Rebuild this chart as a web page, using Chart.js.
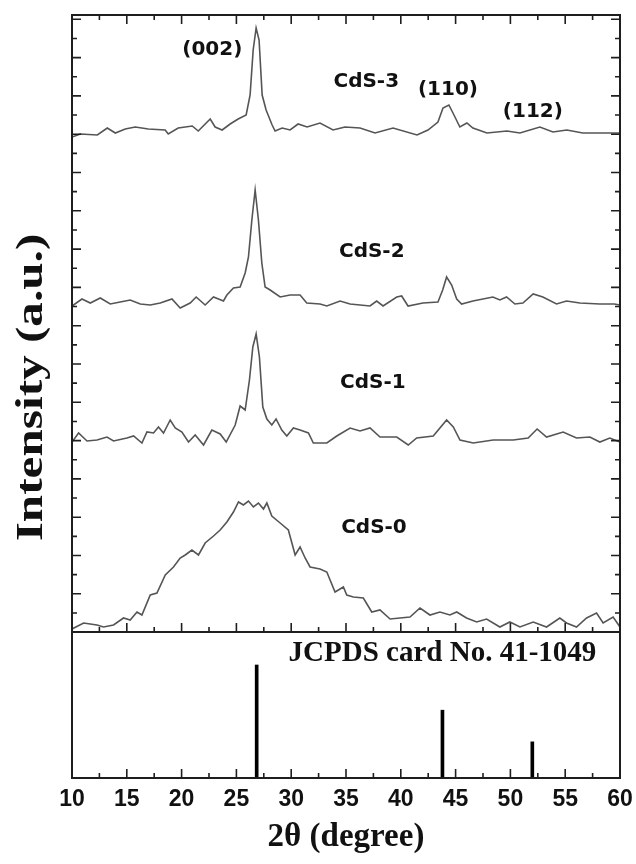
<!DOCTYPE html>
<html>
<head>
<meta charset="utf-8">
<script src="https://cdn.jsdelivr.net/npm/chart.js@4.4.1/dist/chart.umd.min.js"></script>
<style>
  html, body { margin: 0; padding: 0; background: #fff; }
  #wrap { position: relative; width: 636px; height: 864px; }
</style>
</head>
<body>
<div id="wrap"><canvas id="xrd"></canvas></div>
<script>
  'use strict';

  // ===========================================================================
  // DATA (2θ in degrees, intensity in a.u., patterns already stacked)
  // ===========================================================================

  const angle3 = [10.0, 10.76, 12.31, 13.22, 13.95, 14.86, 15.77, 16.96, 18.5, 18.78, 19.69, 20.97, 21.52, 22.61, 23.06, 23.7, 24.43, 25.16, 25.89, 26.25, 26.53, 26.8, 27.07, 27.35, 27.71, 28.26, 28.53, 29.17, 29.9, 30.63, 31.45, 32.63, 33.82, 34.91, 36.28, 37.65, 39.29, 41.48, 42.48, 43.39, 43.85, 44.39, 44.76, 45.39, 46.03, 46.58, 47.86, 49.68, 50.87, 52.69, 53.88, 55.15, 56.61, 59.07, 60.0];
  const counts3 = [495, 498, 497, 504, 499, 503, 505, 503, 502, 498, 504, 506, 501, 513, 505, 502, 508, 513, 517, 537, 582, 604, 592, 537, 522, 507, 501, 504, 502, 508, 505, 509, 502, 505, 504, 499, 504, 497, 502, 510, 524, 527, 519, 505, 509, 504, 499, 501, 499, 505, 500, 502, 499, 499, 499];

  const angle2 = [10.0, 10.91, 11.67, 12.58, 13.49, 14.4, 15.31, 16.23, 17.14, 18.05, 19.12, 19.87, 20.78, 21.33, 22.15, 22.91, 23.82, 24.13, 24.73, 25.34, 25.8, 26.1, 26.41, 26.71, 27.01, 27.32, 27.62, 28.08, 28.99, 29.9, 30.81, 31.42, 32.63, 33.25, 34.46, 35.37, 36.28, 37.19, 37.8, 38.38, 39.63, 40.08, 40.66, 42.02, 43.39, 43.82, 44.18, 44.64, 45.1, 45.55, 46.58, 48.4, 49.04, 49.65, 50.41, 51.14, 52.08, 52.96, 54.21, 55.12, 56.34, 58.16, 59.49, 60.0];
  const counts2 = [326, 333, 329, 334, 328, 330, 332, 328, 327, 329, 333, 324, 329, 335, 327, 335, 331, 337, 344, 345, 359, 375, 412, 442, 412, 369, 345, 342, 335, 337, 337, 329, 328, 326, 331, 328, 327, 326, 331, 326, 335, 336, 326, 329, 330, 342, 355, 347, 333, 328, 331, 335, 332, 335, 328, 329, 338, 335, 328, 331, 329, 328, 328, 327];

  const angle1 = [10.0, 10.6, 11.37, 12.28, 13.19, 13.79, 15.01, 15.62, 16.38, 16.84, 17.44, 17.89, 18.35, 18.96, 19.42, 20.03, 20.63, 21.24, 22.0, 22.76, 23.52, 24.07, 24.89, 25.34, 25.8, 26.19, 26.5, 26.8, 27.1, 27.41, 27.78, 28.23, 28.62, 29.14, 29.6, 30.2, 30.81, 31.57, 32.02, 33.25, 34.16, 35.37, 36.28, 37.19, 38.1, 39.63, 40.68, 41.45, 42.96, 44.18, 44.79, 45.4, 46.61, 48.43, 50.26, 51.62, 52.44, 53.3, 54.81, 56.03, 57.25, 58.16, 59.07, 60.0];
  const counts1 = [190, 199, 191, 192, 195, 191, 194, 196, 189, 200, 199, 205, 199, 212, 204, 200, 190, 197, 187, 202, 198, 190, 207, 226, 222, 252, 285, 298, 275, 225, 213, 207, 213, 202, 196, 204, 202, 199, 189, 189, 196, 204, 201, 204, 195, 195, 187, 194, 196, 212, 205, 192, 189, 192, 192, 194, 203, 195, 200, 194, 195, 190, 194, 190];

  const angle0 = [10.0, 11.06, 12.28, 12.88, 13.79, 14.7, 15.31, 15.93, 16.38, 17.14, 17.75, 18.51, 19.26, 19.87, 20.33, 20.94, 21.54, 22.15, 22.91, 23.52, 24.13, 24.73, 25.19, 25.64, 26.1, 26.55, 27.01, 27.47, 27.78, 28.23, 28.99, 29.74, 30.36, 30.81, 31.27, 31.72, 32.63, 33.25, 34.0, 34.76, 35.07, 35.67, 36.58, 37.35, 38.1, 39.02, 39.93, 40.84, 41.75, 42.66, 43.57, 44.48, 45.1, 46.0, 46.92, 47.83, 49.04, 49.95, 50.87, 52.08, 53.3, 54.51, 55.12, 56.03, 56.95, 57.86, 58.46, 59.37, 60.0];
  const counts0 = [3, 9, 7, 5, 7, 14, 12, 20, 17, 37, 39, 57, 65, 74, 77, 82, 77, 89, 96, 102, 110, 120, 130, 127, 131, 125, 129, 123, 129, 116, 109, 102, 77, 85, 74, 65, 63, 60, 40, 45, 37, 35, 34, 20, 22, 13, 14, 15, 24, 17, 20, 17, 20, 14, 10, 13, 5, 10, 5, 10, 5, 14, 9, 5, 14, 19, 9, 15, 5];

  // JCPDS card No. 41-1049 reference lines (relative intensity, %)
  const jcpdsAngle = [26.85, 43.8, 52.0];
  const jcpdsRel = [100, 60, 32];

  const xTickLabels = [10, 15, 20, 25, 30, 35, 40, 45, 50, 55, 60];

  // Annotations: [text, 2θ, a.u.]
  const peakNotes = [['(002)', 22.8, 582], ['(110)', 44.3, 542], ['(112)', 52.05, 520]];
  const sampleNotes = [['CdS-3', 36.85, 550], ['CdS-2', 37.35, 380], ['CdS-1', 37.45, 249], ['CdS-0', 37.55, 104]];

  // ===========================================================================
  // LAYOUT CONSTANTS
  // ===========================================================================

  const REF_BAND = 146;      // height of the reference panel, a.u.
  const TOP_MAX = 617;
  const REF_SCALE = 113 / 100;
  const Y_TICK_STEP = 19.15;
  const LINE_COLOR = '#555';

  function toPoints(xs, ys) {
    return xs.map((x, i) => ({ x: x, y: ys[i] }));
  }

  function lineSet(label, xs, ys) {
    return {
      type: 'line',
      label: label,
      data: toPoints(xs, ys),
      borderColor: LINE_COLOR,
      borderWidth: 1.6,
      pointRadius: 0,
      tension: 0,
      fill: false,
    };
  }

  // ===========================================================================
  // FRAME + INWARD TICKS + TEXT
  // ===========================================================================

  const framePlugin = {
    id: 'xrdFrame',
    afterDatasetsDraw(chart) {
      const { ctx, chartArea: a, scales: { x, y } } = chart;
      const split = y.getPixelForValue(0);
      ctx.save();
      ctx.strokeStyle = '#1e1e1e';

      // x ticks (inward) on top frame, panel split and bottom frame.
      ctx.lineWidth = 1.6;
      ctx.beginPath();
      for (let v = 10; v <= 60; v += 2.5) {
        const px = x.getPixelForValue(v);
        const len = v % 5 === 0 ? 9 : 5;
        ctx.moveTo(px, a.top); ctx.lineTo(px, a.top + len);
        ctx.moveTo(px, split); ctx.lineTo(px, split - len);
        ctx.moveTo(px, a.bottom); ctx.lineTo(px, a.bottom - len);
      }
      // y ticks (inward) on both sides of the top panel.
      for (let k = 0; ; k++) {
        const v = TOP_MAX - 4.3 - k * Y_TICK_STEP;
        if (v < 1) break;
        const py = y.getPixelForValue(v);
        const len = k % 2 === 0 ? 9 : 5;
        ctx.moveTo(a.left, py); ctx.lineTo(a.left + len, py);
        ctx.moveTo(a.right, py); ctx.lineTo(a.right - len, py);
      }
      ctx.stroke();

      // Frames.
      ctx.lineWidth = 2;
      ctx.strokeRect(a.left, a.top, a.right - a.left, a.bottom - a.top);
      ctx.beginPath();
      ctx.moveTo(a.left, split); ctx.lineTo(a.right, split);
      ctx.stroke();

      // Annotations.
      ctx.fillStyle = '#111';
      ctx.textAlign = 'center';
      ctx.textBaseline = 'middle';
      ctx.font = 'bold 20px "DejaVu Sans"';
      peakNotes.concat(sampleNotes).forEach(([t, xv, yv]) => {
        ctx.fillText(t, x.getPixelForValue(xv), y.getPixelForValue(yv));
      });
      ctx.font = 'bold 29px "Liberation Serif"';
      ctx.fillText('JCPDS card No. 41-1049', x.getPixelForValue(43.8), y.getPixelForValue(-22));

      // y title, stretched along its length like the source figure.
      ctx.save();
      ctx.translate(32, (a.top + a.bottom) / 2 - 9);
      ctx.rotate(-Math.PI / 2);
      ctx.scale(1.33, 1);
      ctx.font = 'bold 37px "Liberation Serif"';
      ctx.fillText('Intensity (a.u.)', 0, 0);
      ctx.restore();

      ctx.restore();
    },
  };

  // ===========================================================================
  // CHART
  // ===========================================================================

  const refBars = {
    type: 'bar',
    label: 'JCPDS 41-1049',
    data: jcpdsAngle.map((x, i) => ({ x: x, y: [-REF_BAND, -REF_BAND + jcpdsRel[i] * REF_SCALE] })),
    backgroundColor: '#000',
    barThickness: 3,
    grouped: false,
  };

  new Chart(document.getElementById('xrd'), {
    type: 'line',
    data: {
      datasets: [
        lineSet('CdS-3', angle3, counts3),
        lineSet('CdS-2', angle2, counts2),
        lineSet('CdS-1', angle1, counts1),
        lineSet('CdS-0', angle0, counts0),
        refBars,
      ],
    },
    options: {
      responsive: true,
      maintainAspectRatio: false,
      animation: false,
      layout: { padding: { top: 15, right: 16, left: 0, bottom: 0 } },
      plugins: {
        legend: { display: false },
        tooltip: { enabled: false },
      },
      scales: {
        x: {
          type: 'linear',
          min: 10,
          max: 60,
          offset: false,
          afterFit(scale) {
            scale.height = 86;
            scale.paddingLeft = 0;
            scale.paddingRight = 0;
          },
          afterBuildTicks(scale) { scale.ticks = xTickLabels.map(v => ({ value: v })); },
          grid: { display: false, drawTicks: false, offset: false },
          border: { display: false },
          ticks: {
            padding: 8,
            color: '#111',
            font: { family: '"Liberation Sans", Arial', size: 23, weight: 'bold' },
          },
          title: {
            display: true,
            text: '2θ (degree)',
            color: '#111',
            padding: { top: 0, bottom: 7 },
            font: { family: '"Liberation Serif", "Times New Roman"', size: 33, weight: 'bold' },
          },
        },
        y: {
          min: -REF_BAND,
          max: TOP_MAX,
          afterFit(scale) { scale.width = 72; },
          grid: { display: false, drawTicks: false },
          border: { display: false },
          ticks: { display: false },
        },
      },
    },
    plugins: [framePlugin],
  });
</script>
</body>
</html>
